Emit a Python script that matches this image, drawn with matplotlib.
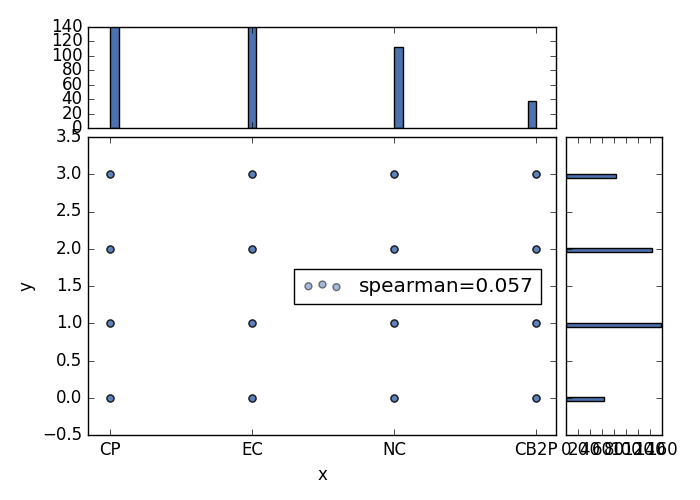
import matplotlib
matplotlib.use("Agg")
import matplotlib.pyplot as plt

plt.style.use("classic")

categories = ["CP", "EC", "NC", "CB2P"]
x_counts = [142, 141, 112, 38]
y_levels = [0, 1, 2, 3]
y_counts = [63, 158, 144, 83]
x_bar_offsets = [0.03, 0.0, 0.03, -0.03]
legend_label = "spearman=0.057"
color = "#4c72b0"

fig = plt.figure(figsize=(7, 5), dpi=100)
ax = fig.add_axes([88/700, 65/500, 468/700, 298/500])
ax_top = fig.add_axes([88/700, 372/500, 468/700, 101/500], sharex=ax)
ax_right = fig.add_axes([566/700, 65/500, 96/700, 298/500], sharey=ax)

xs, ys = [], []
for i in range(len(categories)):
    for y in y_levels:
        xs.append(i)
        ys.append(y)
# overlapping repeated observations make the points look dark
for k in range(3):
    ax.scatter(xs, ys, s=25, color=color, alpha=0.5, edgecolor="black",
               label=legend_label if k == 0 else None)
ax.set_xticks(range(len(categories)))
ax.set_xticklabels(categories)
ax.set_xlim(-0.155, 3.14)
ax.set_ylim(-0.5, 3.5)
ax.set_xlabel("x")
ax.set_ylabel("y")
ax.legend(loc="center right", scatterpoints=3, bbox_to_anchor=(0.99, 0.5))

ax_top.bar([i + o for i, o in enumerate(x_bar_offsets)], x_counts, width=0.06,
           color=color, edgecolor="black", align="center")
ax_top.set_ylim(0, 140)
ax_top.set_yticks(range(0, 141, 20))
plt.setp(ax_top.get_xticklabels(), visible=False)

ax_right.barh([y - 0.02 for y in y_levels], y_counts, height=0.06,
              color=color, edgecolor="black", align="center")
ax_right.set_xlim(0, 160)
ax_right.set_xticks(range(0, 161, 20))
plt.setp(ax_right.get_yticklabels(), visible=False)

fig.savefig("out.png", dpi=100)
